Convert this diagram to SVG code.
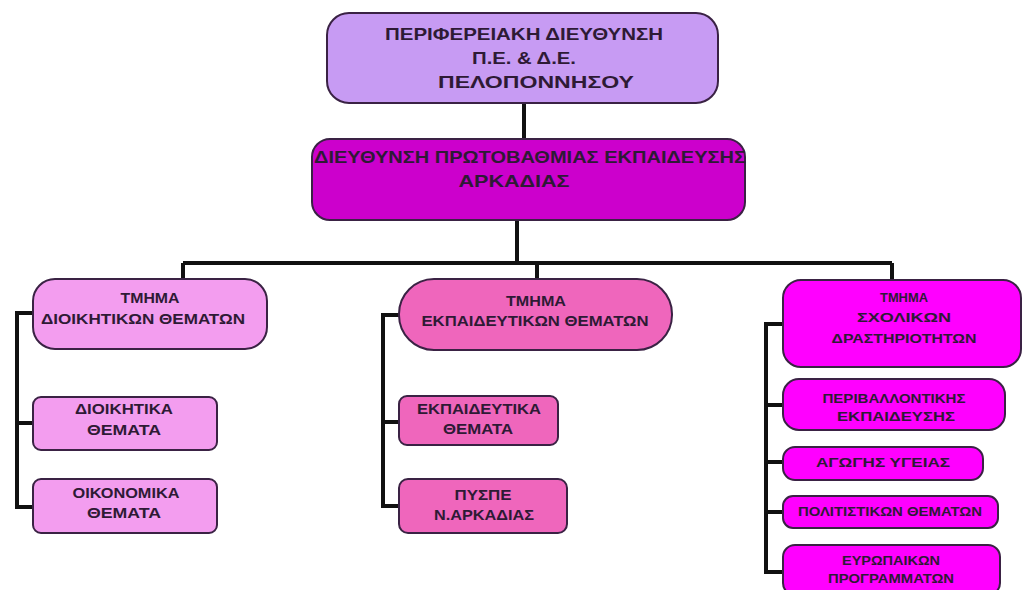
<svg xmlns="http://www.w3.org/2000/svg" width="1023" height="590" viewBox="0 0 1023 590">
<style>
.box{stroke:#3a2244;stroke-width:2}
.t{font-family:"Liberation Sans",Arial,sans-serif;font-weight:bold;fill:#2e1a35;text-anchor:middle}
.lg{font-size:17px}
.md{font-size:14px}
.sm{font-size:13.5px}
.xs{font-size:12px}
.c{stroke:#111;stroke-width:4;fill:none}
</style>
<rect width="1023" height="590" fill="#ffffff"/>
<g id="connectors">
<path class="c" d="M524,103 V140"/>
<path class="c" d="M517,220 V263"/>
<path class="c" d="M183,263 H892"/>
<path class="c" d="M183,263 V280"/>
<path class="c" d="M537,263 V280"/>
<path class="c" d="M892,263 V280"/>
<path class="c" d="M33,313 H17 V507 H33 M17,423 H33"/>
<path class="c" d="M399,315 H383 V506 H399 M383,422 H399"/>
<path class="c" d="M783,324 H766 V572 H783 M766,405 H783 M766,462 H783 M766,512 H783"/>
</g>
<g id="n-periferiaki">
<rect class="box" x="327" y="13" width="391" height="90" rx="22" fill="#C79BF3"/>
<text class="t lg" x="524" y="40" textLength="278" lengthAdjust="spacingAndGlyphs">ΠΕΡΙΦΕΡΕΙΑΚΗ ΔΙΕΥΘΥΝΣΗ</text>
<text class="t lg" x="524" y="64" textLength="104" lengthAdjust="spacingAndGlyphs">Π.Ε. &amp; Δ.Ε.</text>
<text class="t lg" x="536" y="88" textLength="196" lengthAdjust="spacingAndGlyphs">ΠΕΛΟΠΟΝΝΗΣΟΥ</text>
</g>
<g id="n-dipe">
<rect class="box" x="312" y="139" width="433" height="81" rx="18" fill="#CC00CC"/>
<text class="t lg" x="530" y="163" textLength="432" lengthAdjust="spacingAndGlyphs">ΔΙΕΥΘΥΝΣΗ ΠΡΩΤΟΒΑΘΜΙΑΣ ΕΚΠΑΙΔΕΥΣΗΣ</text>
<text class="t lg" x="514" y="187" textLength="111" lengthAdjust="spacingAndGlyphs">ΑΡΚΑΔΙΑΣ</text>
</g>
<g id="n-dioikitikon">
<rect class="box" x="33" y="279" width="234" height="70" rx="22" fill="#F39DEF"/>
<text class="t md" x="150" y="303" textLength="59" lengthAdjust="spacingAndGlyphs">ΤΜΗΜΑ</text>
<text class="t md" x="143" y="324" textLength="204" lengthAdjust="spacingAndGlyphs">ΔΙΟΙΚΗΤΙΚΩΝ  ΘΕΜΑΤΩΝ</text>
</g>
<g id="n-dioikitika">
<rect class="box" x="33" y="397" width="184" height="53" rx="8" fill="#F39DEF"/>
<text class="t md" x="124" y="414" textLength="98" lengthAdjust="spacingAndGlyphs">ΔΙΟΙΚΗΤΙΚΑ</text>
<text class="t md" x="124" y="435" textLength="74" lengthAdjust="spacingAndGlyphs">ΘΕΜΑΤΑ</text>
</g>
<g id="n-oikonomika">
<rect class="box" x="33" y="479" width="184" height="54" rx="8" fill="#F39DEF"/>
<text class="t md" x="126" y="498" textLength="107" lengthAdjust="spacingAndGlyphs">ΟΙΚΟΝΟΜΙΚΑ</text>
<text class="t md" x="124" y="518" textLength="74" lengthAdjust="spacingAndGlyphs">ΘΕΜΑΤΑ</text>
</g>
<g id="n-ekpaideutikon">
<rect class="box" x="399" y="279" width="273" height="71" rx="35" fill="#EF66BC"/>
<text class="t md" x="536" y="306" textLength="60" lengthAdjust="spacingAndGlyphs">ΤΜΗΜΑ</text>
<text class="t md" x="535" y="326" textLength="227" lengthAdjust="spacingAndGlyphs">ΕΚΠΑΙΔΕΥΤΙΚΩΝ ΘΕΜΑΤΩΝ</text>
</g>
<g id="n-ekpaideutika">
<rect class="box" x="399" y="396" width="159" height="49" rx="8" fill="#EF66BC"/>
<text class="t md" x="479" y="414" textLength="124" lengthAdjust="spacingAndGlyphs">ΕΚΠΑΙΔΕΥΤΙΚΑ</text>
<text class="t md" x="478" y="434" textLength="70" lengthAdjust="spacingAndGlyphs">ΘΕΜΑΤΑ</text>
</g>
<g id="n-pyspe">
<rect class="box" x="399" y="479" width="168" height="54" rx="9" fill="#EF66BC"/>
<text class="t md" x="483" y="500" textLength="57" lengthAdjust="spacingAndGlyphs">ΠΥΣΠΕ</text>
<text class="t md" x="484" y="520" textLength="100" lengthAdjust="spacingAndGlyphs">Ν.ΑΡΚΑΔΙΑΣ</text>
</g>
<g id="n-sxolikon">
<rect class="box" x="783" y="280" width="238" height="87" rx="18" fill="#FF00FF"/>
<text class="t sm" x="904" y="302" textLength="48" lengthAdjust="spacingAndGlyphs">ΤΜΗΜΑ</text>
<text class="t sm" x="904" y="322" textLength="94" lengthAdjust="spacingAndGlyphs">ΣΧΟΛΙΚΩΝ</text>
<text class="t sm" x="904" y="343" textLength="145" lengthAdjust="spacingAndGlyphs">ΔΡΑΣΤΗΡΙΟΤΗΤΩΝ</text>
</g>
<g id="n-periballontikis">
<rect class="box" x="783" y="379" width="222" height="51" rx="16" fill="#FF00FF"/>
<text class="t xs" x="894" y="403" textLength="143" lengthAdjust="spacingAndGlyphs">ΠΕΡΙΒΑΛΛΟΝΤΙΚΗΣ</text>
<text class="t xs" x="896" y="421" textLength="118" lengthAdjust="spacingAndGlyphs">ΕΚΠΑΙΔΕΥΣΗΣ</text>
</g>
<g id="n-agogis">
<rect class="box" x="783" y="447" width="200" height="33" rx="12" fill="#FF00FF"/>
<text class="t xs" x="883" y="467" textLength="134" lengthAdjust="spacingAndGlyphs">ΑΓΩΓΗΣ ΥΓΕΙΑΣ</text>
</g>
<g id="n-politistikon">
<rect class="box" x="783" y="496" width="215" height="32" rx="10" fill="#FF00FF"/>
<text class="t xs" x="890" y="516" textLength="184" lengthAdjust="spacingAndGlyphs">ΠΟΛΙΤΙΣΤΙΚΩΝ ΘΕΜΑΤΩΝ</text>
</g>
<g id="n-eyropaikon">
<rect class="box" x="783" y="545" width="217" height="50" rx="12" fill="#FF00FF"/>
<text class="t xs" x="891" y="565" textLength="98" lengthAdjust="spacingAndGlyphs">ΕΥΡΩΠΑΙΚΩΝ</text>
<text class="t xs" x="891" y="583" textLength="126" lengthAdjust="spacingAndGlyphs">ΠΡΟΓΡΑΜΜΑΤΩΝ</text>
</g>
</svg>
